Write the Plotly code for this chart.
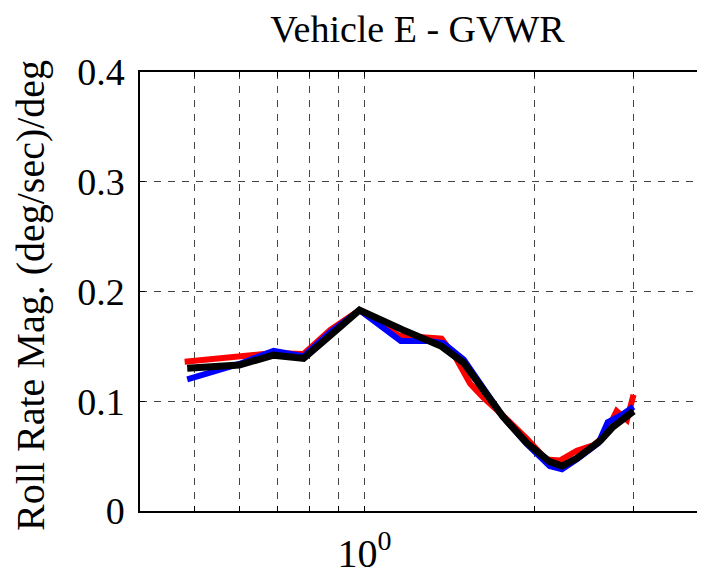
"""plot.py - Vehicle E roll rate magnitude vs frequency (log x)."""
import numpy as np
import plotly.graph_objects as go

# red run
red_freq = [0.48, 0.69, 0.78, 0.87, 0.98, 1.15, 1.37, 1.45, 1.54, 1.62, 1.76,
            1.94, 2.10, 2.22, 2.38, 2.55, 2.66, 2.80, 2.92, 3.0]
red_mag = [0.136, 0.144, 0.143, 0.165, 0.183, 0.160, 0.157, 0.140, 0.116, 0.104,
           0.087, 0.066, 0.047, 0.046, 0.055, 0.060, 0.068, 0.091, 0.083, 0.106]

# blue run
blue_freq = [0.485, 0.60, 0.69, 0.78, 0.87, 0.98, 1.16, 1.30, 1.38, 1.50, 1.76,
             1.94, 2.13, 2.24, 2.38, 2.60, 2.70, 2.85, 3.0]
blue_mag = [0.120, 0.134, 0.146, 0.141, 0.163, 0.183, 0.155, 0.155, 0.153, 0.138,
            0.086, 0.061, 0.041, 0.038, 0.047, 0.062, 0.081, 0.087, 0.095]

# black (average) run
black_freq = [0.485, 0.60, 0.69, 0.78, 0.87, 0.98, 1.17, 1.37, 1.50, 1.76, 1.94,
              2.13, 2.24, 2.38, 2.62, 2.75, 3.0]
black_mag = [0.130, 0.133, 0.142, 0.139, 0.160, 0.183, 0.165, 0.150, 0.135, 0.086,
             0.062, 0.045, 0.041, 0.048, 0.064, 0.076, 0.091]

x_major = [1]
x_major_text = ["10<sup>0</sup>"]
x_minor = [0.5, 0.6, 0.7, 0.8, 0.9, 2, 3]
y_ticks = [0, 0.1, 0.2, 0.3, 0.4]
y_ticktext = ["0", "0.1", "0.2", "0.3", "0.4"]

SERIF = "Liberation Serif, Times New Roman, serif"
GRID = dict(showgrid=True, gridcolor="#444", griddash="7px,7px", gridwidth=1)

# page body has an 8px margin, so the figure is a bit smaller than the window
W, H = 697, 574

fig = go.Figure()
for xs, ys, col, w in [(red_freq, red_mag, "#ff0000", 6),
                       (blue_freq, blue_mag, "#0000ff", 6),
                       (black_freq, black_mag, "#000000", 7)]:
    fig.add_trace(go.Scatter(x=xs, y=ys, mode="lines",
                             line=dict(color=col, width=w), showlegend=False))

fig.update_layout(
    width=W, height=H,
    margin=dict(l=132, r=1, t=64, b=71),
    paper_bgcolor="white", plot_bgcolor="white",
    font=dict(family=SERIF, color="black"),
    title=dict(text="Vehicle E - GVWR", x=409.5 / W, xanchor="center",
               y=1 - 21 / H, yanchor="middle", yref="container",
               font=dict(size=38, family=SERIF, color="black")),
    annotations=[dict(text="Roll Rate Mag. (deg/sec)/deg", textangle=-90,
                      xref="paper", yref="paper",
                      x=(23 - 132) / 564, y=0.49,
                      xanchor="center", yanchor="middle", showarrow=False,
                      font=dict(size=40, family=SERIF, color="black"))],
)
fig.update_xaxes(
    type="log", range=[np.log10(0.4), np.log10(4)],
    tickvals=x_major, ticktext=x_major_text,
    ticks="inside", ticklen=5, tickcolor="black",
    tickfont=dict(size=40, family=SERIF, color="black"),
    minor=dict(tickvals=x_minor, ticks="inside", ticklen=5, tickcolor="black", **GRID),
    showline=True, linecolor="black", linewidth=1.5, mirror="ticks",
    zeroline=False, ticklabelstandoff=6, automargin=False, **GRID,
)
fig.update_yaxes(
    range=[0, 0.4], tickvals=y_ticks, ticktext=y_ticktext,
    ticks="inside", ticklen=5, tickcolor="black",
    tickfont=dict(size=38, family=SERIF, color="black"),
    showline=True, linecolor="black", linewidth=1.5, mirror="ticks",
    zeroline=False, ticklabelstandoff=6, automargin=False, **GRID,
)

fig.write_html("out.html")
